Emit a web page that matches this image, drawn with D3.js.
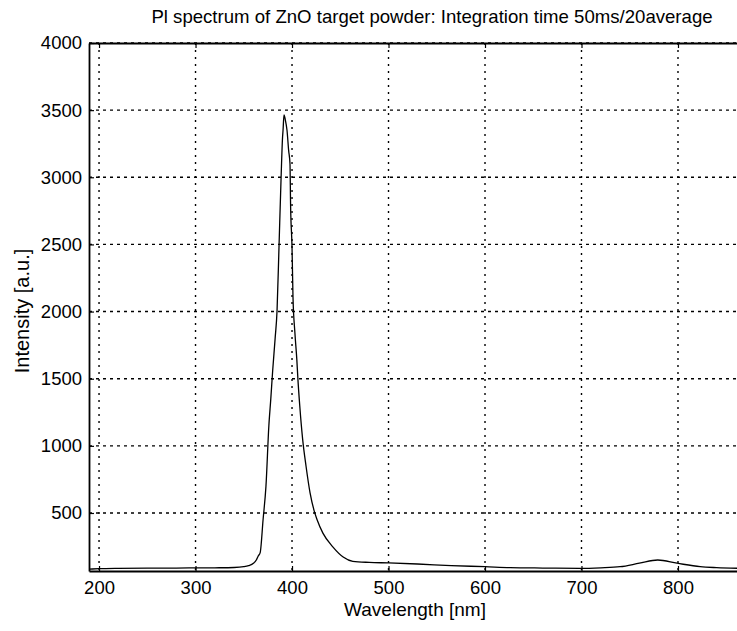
<!DOCTYPE html>
<html>
<head>
<meta charset="utf-8">
<script src="https://cdn.jsdelivr.net/npm/d3@7"></script>
<style>
  body { margin: 0; background: #fff; }
  svg { display: block; font-family: "Liberation Sans", Arial, Helvetica, sans-serif; }
</style>
</head>
<body>
<script>
// PL spectrum
const wavelength = [190, 200, 220, 250, 280, 300, 320, 340, 350, 355, 360, 363, 365, 367, 370, 373, 376, 378,
    380, 382.5, 384.5, 386.5, 388.6, 390.2, 390.7, 391.7, 393, 394.8, 396.5, 397.9, 398.5, 400, 401, 403, 405, 406,
    408, 411, 414.5, 418.7, 422.8, 426, 432, 442.5, 453, 463, 480, 500, 530, 565, 600, 626, 660, 698,
    720, 740, 760, 779, 799, 823, 840, 866];
const intensity = [82, 85, 88, 90, 90, 91, 92, 94, 100, 108, 125, 150, 180, 205, 450, 700, 1150, 1350,
    1565, 1800, 2010, 2480, 2980, 3300, 3350, 3465, 3430, 3350, 3200, 3100, 2800, 2480, 2110, 1840, 1640, 1510,
    1300, 1050, 850, 650, 520, 450, 350, 246, 172, 140, 132, 128, 120, 108, 100, 93, 90, 88,
    92, 100, 126, 150, 126, 100, 93, 88];

const xTicks = [200, 300, 400, 500, 600, 700, 800];
const yTicks = [500, 1000, 1500, 2000, 2500, 3000, 3500, 4000];

const titleText = "Pl spectrum of ZnO target powder: Integration time 50ms/20average";
const xLabel = "Wavelength [nm]";
const yLabel = "Intensity [a.u.]";

// --- SVG Setup ---
const width = 737, height = 631;
const plot = { left: 89, right: 741, top: 43, bottom: 571 };

const svg = d3.select("body").append("svg")
    .attr("width", width)
    .attr("height", height);

// Scales
const xScale = d3.scaleLinear().domain([189.6, 865.3]).range([plot.left, plot.right]);
const yScale = d3.scaleLinear().domain([68, 4000]).range([plot.bottom, plot.top]);

// Grid
const grid = svg.append("g").attr("stroke", "#000").attr("stroke-width", 1.4).attr("fill", "none");
grid.selectAll(".vgrid")
    .data(xTicks)
    .enter().append("line")
    .attr("class", "vgrid")
    .attr("x1", d => xScale(d)).attr("x2", d => xScale(d))
    .attr("y1", plot.top).attr("y2", plot.bottom)
    .attr("stroke-dasharray", "2,5");
grid.selectAll(".hgrid")
    .data(yTicks)
    .enter().append("line")
    .attr("class", "hgrid")
    .attr("x1", plot.left).attr("x2", plot.right)
    .attr("y1", d => yScale(d)).attr("y2", d => yScale(d))
    .attr("stroke-dasharray", "3,4");

// Axes (ticks point inward)
const xAxis = svg.append("g")
    .attr("transform", `translate(0, ${plot.bottom})`)
    .call(d3.axisBottom(xScale).tickValues(xTicks).tickFormat(d3.format("d"))
        .tickSizeInner(-5).tickSizeOuter(0).tickPadding(10));
const yAxis = svg.append("g")
    .attr("transform", `translate(${plot.left}, 0)`)
    .call(d3.axisLeft(yScale).tickValues(yTicks).tickFormat(d3.format("d"))
        .tickSizeInner(-5).tickSizeOuter(0).tickPadding(7));
const xTop = svg.append("g")
    .attr("transform", `translate(0, ${plot.top})`)
    .call(d3.axisTop(xScale).tickValues(xTicks).tickSizeInner(-5).tickSizeOuter(0).tickFormat(""));

[xAxis, yAxis, xTop].forEach(g => {
    g.attr("font-family", null);
    g.select(".domain").attr("stroke", "#000").attr("stroke-width", 1.8);
    g.selectAll(".tick line").attr("stroke", "#000").attr("stroke-width", 1.2);
    g.selectAll(".tick text").attr("fill", "#000").style("font-size", "18.5px");
});
xAxis.select(".domain").attr("stroke-width", 2.2);
xTop.select(".domain").attr("stroke-width", 2.2);

// Spectrum line
const line = d3.line()
    .x((d, i) => xScale(wavelength[i]))
    .y(d => yScale(d))
    .curve(d3.curveMonotoneX);

svg.append("defs").append("clipPath").attr("id", "plotclip")
    .append("rect").attr("x", plot.left).attr("y", plot.top)
    .attr("width", plot.right - plot.left).attr("height", plot.bottom - plot.top);

svg.append("path")
    .datum(intensity)
    .attr("clip-path", "url(#plotclip)")
    .attr("fill", "none")
    .attr("stroke", "#000")
    .attr("stroke-width", 1.3)
    .attr("d", line);

// Labels
svg.append("text")
    .attr("x", 432)
    .attr("y", 23)
    .attr("text-anchor", "middle")
    .style("font-size", "18.6px")
    .text(titleText);

svg.append("text")
    .attr("x", 415)
    .attr("y", 616)
    .attr("text-anchor", "middle")
    .style("font-size", "19px")
    .text(xLabel);

svg.append("text")
    .attr("transform", "rotate(-90)")
    .attr("x", -311)
    .attr("y", 29)
    .attr("text-anchor", "middle")
    .style("font-size", "20px")
    .text(yLabel);
</script>
</body>
</html>
